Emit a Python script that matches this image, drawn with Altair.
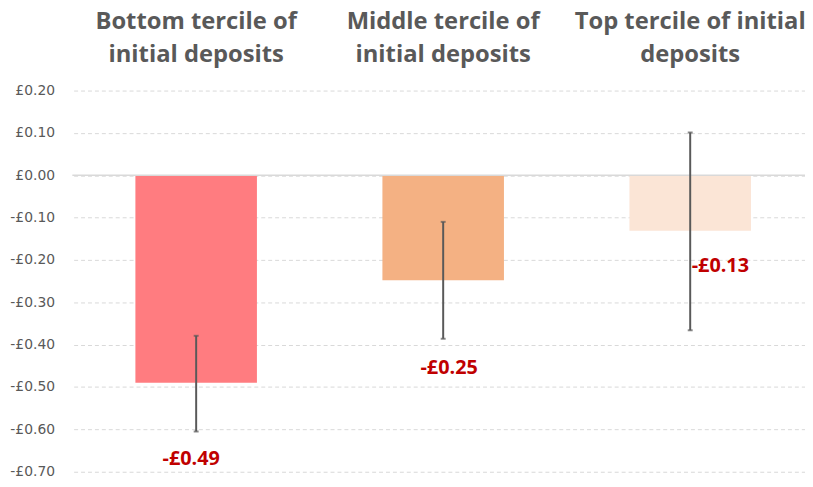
import altair as alt
import pandas as pd

categories = ["Bottom", "Middle", "Top"]
title_lines = [
    "Bottom tercile of\ninitial deposits",
    "Middle tercile of\ninitial deposits",
    "Top tercile of initial\ndeposits",
]
values = [-0.49, -0.248, -0.131]
err_low = [-0.605, -0.386, -0.366]
err_high = [-0.379, -0.110, 0.101]
bar_colors = ["#FF7C80", "#F4B183", "#FBE5D6"]
y_ticks = [0.2, 0.1, 0.0, -0.1, -0.2, -0.3, -0.4, -0.5, -0.6, -0.7]

df = pd.DataFrame({
    "cat": categories,
    "title": title_lines,
    "value": values,
    "lo": err_low,
    "hi": err_high,
})

FONT = "Open Sans"
GREY = "#595959"

x = alt.X("cat:N", sort=categories, axis=None,
          scale=alt.Scale(domain=categories, range=[1.3, 747.8], paddingInner=0.508, paddingOuter=0.25))
y_scale = alt.Scale(domain=[-0.7, 0.2], nice=False, zero=False)

base = alt.Chart(df)

bars = base.mark_bar().encode(
    x=x,
    y=alt.Y("value:Q", scale=y_scale, title=None,
            axis=alt.Axis(values=y_ticks, domain=False, ticks=False, grid=True,
                          gridDash=[4, 3], gridColor="#D9D9D9", gridWidth=1,
                          labelColor=GREY, labelFont="DejaVu Sans", labelFontSize=14, labelPadding=18,
                          labelExpr="(datum.value < -0.0001 ? '-£' : '£') + format(abs(datum.value), '.2f')")),
    y2=alt.datum(0),
    color=alt.Color("cat:N", scale=alt.Scale(domain=categories, range=bar_colors), legend=None),
)

zero = alt.Chart(pd.DataFrame({"z": [0.0]})).mark_rule(color="#D9D9D9", strokeWidth=1.5).encode(
    y=alt.Y("z:Q", scale=y_scale),
    x=alt.value(0), x2=alt.value(747),
)

err = base.mark_rule(color=GREY, strokeWidth=2).encode(x=x, y=alt.Y("lo:Q", scale=y_scale), y2="hi:Q")
cap_lo = base.mark_tick(color=GREY, orient="horizontal", size=5, thickness=2).encode(x=x, y=alt.Y("lo:Q", scale=y_scale))
cap_hi = base.mark_tick(color=GREY, orient="horizontal", size=5, thickness=2).encode(x=x, y=alt.Y("hi:Q", scale=y_scale))

label_text = "(datum.value < 0 ? '-£' : '£') + format(abs(datum.value), '.2f')"
label_style = [("Bottom", "center", -5, 77), ("Middle", "center", 6, 89), ("Top", "left", 1.5, 36)]
labels = []
for cat, align, dx, dy in label_style:
    labels.append(
        base.transform_filter(alt.datum.cat == cat)
        .transform_calculate(lab=label_text)
        .mark_text(align=align, baseline="middle", dx=dx, dy=dy, font=FONT,
                   fontSize=20, fontWeight="bold", color="#C00000")
        .encode(x=x, y=alt.Y("value:Q", scale=y_scale), text="lab:N")
    )

titles = base.mark_text(lineBreak="\n", align="center", baseline="alphabetic", font=FONT,
                        fontSize=24, fontWeight="bold", color=GREY, lineHeight=33).encode(
    x=x, y=alt.value(-62), text="title:N"
)

chart = alt.layer(bars, zero, err, cap_lo, cap_hi, *labels, titles).properties(
    width=740, height=385,
    autosize=alt.AutoSizeParams(type="none"),
    padding={"left": 65, "top": 81, "right": 0, "bottom": 12},
    background="white",
).configure_view(stroke=None)

chart.save("out.html", embed_options={"renderer": "svg", "actions": False})
